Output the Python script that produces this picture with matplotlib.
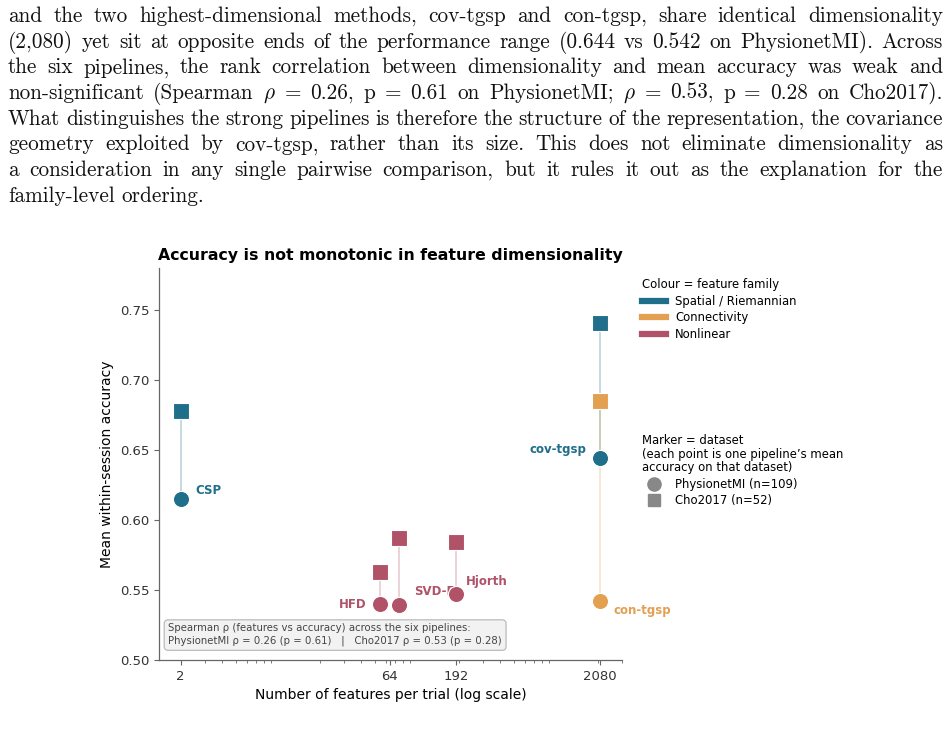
import matplotlib
matplotlib.use('Agg')
import matplotlib.pyplot as plt
from matplotlib.lines import Line2D
from matplotlib.ticker import LogLocator, NullFormatter, FormatStrFormatter

plt.rcParams['mathtext.fontset'] = 'cm'

# paragraph of the page above the figure (one entry per printed line)
paragraph = [
    "and the two highest-dimensional methods, cov-tgsp and con-tgsp, share identical dimensionality",
    "(2,080) yet sit at opposite ends of the performance range (0.644 vs 0.542 on PhysionetMI). Across",
    "the six pipelines, the rank correlation between dimensionality and mean accuracy was weak and",
    r"non-significant (Spearman $\rho$ = 0.26, p = 0.61 on PhysionetMI; $\rho$ = 0.53, p = 0.28 on Cho2017).",
    "What distinguishes the strong pipelines is therefore the structure of the representation, the covariance",
    "geometry exploited by cov-tgsp, rather than its size. This does not eliminate dimensionality as",
    "a consideration in any single pairwise comparison, but it rules it out as the explanation for the",
    "family-level ordering.",
]

pipelines = ['CSP', 'HFD', 'SVD-E', 'Hjorth', 'cov-tgsp', 'con-tgsp']
n_features = [2, 64, 64, 192, 2080, 2080]
families = ['Spatial / Riemannian', 'Nonlinear', 'Nonlinear', 'Nonlinear',
            'Spatial / Riemannian', 'Connectivity']
acc_physionet = [0.615, 0.540, 0.539, 0.547, 0.644, 0.542]
acc_cho = [0.678, 0.563, 0.587, 0.584, 0.741, 0.685]

family_names = ['Spatial / Riemannian', 'Connectivity', 'Nonlinear']
dataset_names = ['PhysionetMI (n=109)', 'Cho2017 (n=52)']
x_ticks = [2, 64, 192, 2080]
y_ticks = [0.50, 0.55, 0.60, 0.65, 0.70, 0.75]

spearman_note = ("Spearman \u03c1 (features vs accuracy) across the six pipelines:\n"
                 "PhysionetMI \u03c1 = 0.26 (p = 0.61)   |   Cho2017 \u03c1 = 0.53 (p = 0.28)")

COLOURS = {'Spatial / Riemannian': '#1f6e8a',
           'Connectivity': '#e2a050',
           'Nonlinear': '#b05268'}
# small horizontal spread so the two 64-feature pipelines don't overlap
JITTER = {'HFD': 1 / 1.17, 'SVD-E': 1.17}
# label offset (points) and alignment relative to the PhysionetMI marker
LABEL_POS = {'CSP': (11, 6, 'left'), 'HFD': (-10, 0, 'right'),
             'SVD-E': (11, 10, 'left'), 'Hjorth': (7, 9.5, 'left'),
             'cov-tgsp': (-10, 6.5, 'right'), 'con-tgsp': (10, -6.5, 'left')}

W, H = 952, 732
fig = plt.figure(figsize=(W / 100, H / 100), dpi=100)


def draw_paragraph(fig, lines, left=8, right=943, first_baseline=22, step=25.65, size=15.3):
    renderer = fig.canvas.get_renderer()
    for i, line in enumerate(lines):
        y = 1 - (first_baseline + i * step) / H
        words = line.split()
        texts = [fig.text(0, y, w, fontsize=size, family='cmr10', va='baseline',
                          color='#111111') for w in words]
        widths = [t.get_window_extent(renderer).width for t in texts]
        if i == len(lines) - 1:
            gap = size * 0.333 * 100 / 72
        else:
            gap = (right - left - sum(widths)) / (len(words) - 1)
        x = left
        for t, w in zip(texts, widths):
            t.set_x(x / W)
            x += w + gap


draw_paragraph(fig, paragraph)

ax = fig.add_axes([159 / W, 72 / H, 463 / W, 392 / H])

for i, name in enumerate(pipelines):
    c = COLOURS[families[i]]
    x = n_features[i] * JITTER.get(name, 1)
    ax.plot([x, x], [acc_physionet[i], acc_cho[i]], color=c, alpha=0.3, lw=1.2, zorder=1)
    ax.scatter([x], [acc_physionet[i]], marker='o', s=135, color=c,
               edgecolor='white', linewidth=0.8, zorder=3)
    ax.scatter([x], [acc_cho[i]], marker='s', s=125, color=c,
               edgecolor='white', linewidth=0.8, zorder=3)
    dx, dy, ha = LABEL_POS[name]
    ax.annotate(name, (x, acc_physionet[i]), xytext=(dx, dy), textcoords='offset points',
                ha=ha, va='center', color=c, fontsize=8.5, fontweight='bold', zorder=2)

ax.set_xscale('log')
ax.set_xlim(1.4, 3000)
ax.set_ylim(0.50, 0.78)
ax.set_xticks(x_ticks)
ax.set_xticklabels([str(t) for t in x_ticks])
ax.xaxis.set_minor_locator(LogLocator(base=10, subs='auto'))
ax.xaxis.set_minor_formatter(NullFormatter())
ax.set_yticks(y_ticks)
ax.yaxis.set_major_formatter(FormatStrFormatter('%.2f'))

for side in ['top', 'right']:
    ax.spines[side].set_visible(False)
for side in ['left', 'bottom']:
    ax.spines[side].set_color('#666666')
    ax.spines[side].set_linewidth(0.9)
ax.tick_params(axis='both', which='both', colors='#666666', labelcolor='#333333', labelsize=9.5)

ax.set_xlabel('Number of features per trial (log scale)', fontsize=10)
ax.set_ylabel('Mean within-session accuracy', fontsize=10)
ax.set_title('Accuracy is not monotonic in feature dimensionality',
             fontsize=11.3, fontweight='bold')

ax.text(0.02, 0.035, spearman_note, transform=ax.transAxes, fontsize=7.3,
        color='#444444', ha='left', va='bottom', linespacing=1.3,
        bbox=dict(boxstyle='round,pad=0.4', facecolor='#f2f2f2',
                  edgecolor='#bbbbbb', linewidth=0.9))

fam_handles = [Line2D([], [], color=COLOURS[f], lw=4.5) for f in family_names]
leg1 = ax.legend(fam_handles, family_names, title='Colour = feature family',
                 loc='upper left', bbox_to_anchor=(1.021, 1.0), frameon=False,
                 fontsize=8.4, title_fontsize=8.4, alignment='left', labelspacing=0.3)
ax.add_artist(leg1)

set_handles = [Line2D([], [], marker='o', ls='', color='#888888', ms=9.5),
               Line2D([], [], marker='s', ls='', color='#888888', ms=8.5)]
leg2 = ax.legend(set_handles, dataset_names,
                 title='Marker = dataset\n(each point is one pipeline\u2019s mean\naccuracy on that dataset)',
                 loc='upper left', bbox_to_anchor=(1.021, 0.603), frameon=False,
                 fontsize=8.4, title_fontsize=8.4, alignment='left', labelspacing=0.3)
leg2.get_title().set_linespacing(1.05)

fig.savefig('out.png', dpi=100)
